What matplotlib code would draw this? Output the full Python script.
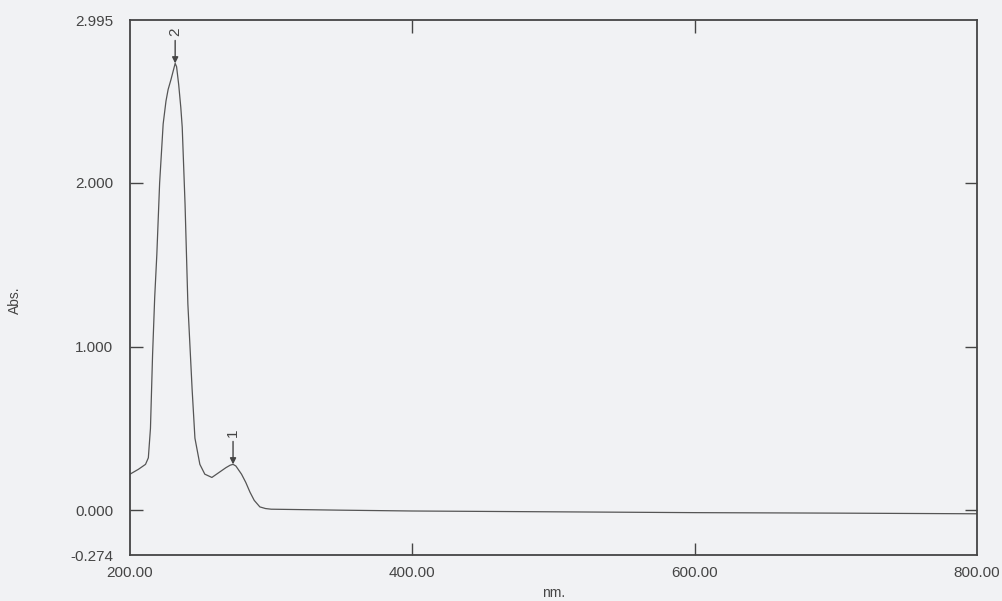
import matplotlib
matplotlib.use("Agg")
import matplotlib.pyplot as plt

plt.rcParams["font.family"] = ["Liberation Sans", "DejaVu Sans"]

# UV-Vis scan
wavelength = [200, 206, 211, 213, 214.5, 216, 217.5, 219, 221, 223.5, 225.5, 227, 229,
              230.5, 232, 233, 234.5, 236, 237, 239, 241, 244, 246, 249.5, 253, 258,
              263, 268, 271, 273, 275, 277, 279, 282, 285, 288, 292, 296, 300, 350,
              400, 500, 600, 700, 800]
absorbance = [0.22, 0.25, 0.28, 0.32, 0.50, 0.95, 1.30, 1.56, 2.00, 2.36, 2.50, 2.57, 2.63,
              2.68, 2.73, 2.71, 2.60, 2.46, 2.34, 1.87, 1.26, 0.74, 0.44, 0.28, 0.22, 0.20,
              0.23, 0.26, 0.275, 0.28, 0.27, 0.245, 0.22, 0.17, 0.11, 0.06, 0.02, 0.01,
              0.006, 0.0, -0.005, -0.01, -0.015, -0.018, -0.022]

peak_nm = [273, 232]
peak_abs = [0.28, 2.73]
peak_labels = ["1", "2"]

xticks = [200, 400, 600, 800]
xtick_labels = ["200.00", "400.00", "600.00", "800.00"]
yticks = [-0.274, 0.0, 1.0, 2.0, 2.995]
ytick_labels = ["-0.274", "0.000", "1.000", "2.000", "2.995"]

INK = "#454545"
PAPER = "#f1f2f4"

fig = plt.figure(figsize=(10.03, 6.01), dpi=100, facecolor=PAPER)
ax = fig.add_axes([0.1296, 0.0765, 0.8445, 0.8902], facecolor=PAPER)

ax.plot(wavelength, absorbance, color="#555555", lw=0.9)

for x, y, lab in zip(peak_nm, peak_abs, peak_labels):
    ax.annotate("", xy=(x, y), xytext=(x, y + 0.14),
                arrowprops=dict(arrowstyle="-|>", color=INK, lw=1.0,
                                mutation_scale=9, shrinkA=0, shrinkB=0))
    ax.text(x, y + 0.17, lab, rotation=90, ha="center", va="bottom",
            fontsize=11, color=INK)

ax.set_xlim(200, 800)
ax.set_ylim(-0.274, 2.995)
ax.set_xticks(xticks, xtick_labels)
ax.set_yticks(yticks, ytick_labels)
ax.tick_params(direction="in", length=9, width=1.0, color=INK, labelcolor=INK,
               labelsize=11, top=True, right=True)
ax.tick_params(axis="x", pad=8)
ax.tick_params(axis="y", pad=12)
# end ticks sit on the frame; the printout shows none there
for axis in (ax.xaxis, ax.yaxis):
    ticks = axis.get_major_ticks()
    for t in (ticks[0], ticks[-1]):
        t.tick1line.set_visible(False)
        t.tick2line.set_visible(False)
for s in ax.spines.values():
    s.set_color(INK)
    s.set_linewidth(1.3)

ax.set_xlabel("nm.", fontsize=10, color=INK, labelpad=4)
fig.text(15 / 1003, 0.5, "Abs.", rotation=90, ha="center", va="center",
         fontsize=10, color=INK)

fig.savefig("out.png", dpi=100, facecolor=PAPER)
